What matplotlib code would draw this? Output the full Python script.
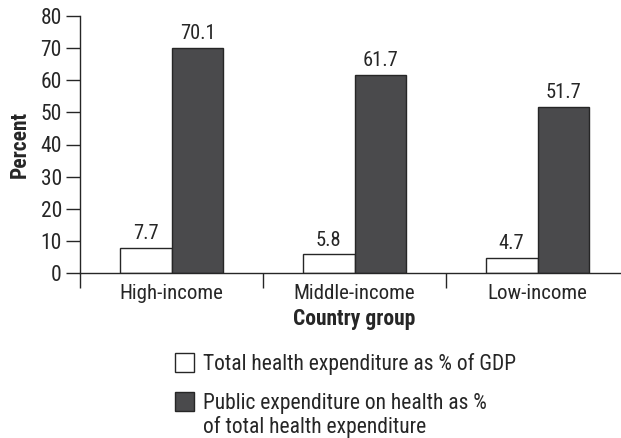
import matplotlib
matplotlib.use("Agg")
import matplotlib.pyplot as plt
import matplotlib.patches as patches
from matplotlib import font_manager
import numpy as np

# pick a narrow font if there is one
names = set(f.name for f in font_manager.fontManager.ttflist)
fam = 'Liberation Sans'
for cand in ['Liberation Sans Narrow', 'Roboto Condensed', 'Open Sans Condensed']:
    if cand in names:
        fam = cand
        break
plt.rcParams['font.family'] = [fam, 'DejaVu Sans']

groups = ['High-income', 'Middle-income', 'Low-income']
total_gdp = [7.7, 5.8, 4.7]
public_share = [70.1, 61.7, 51.7]
labels = ['Total health expenditure as % of GDP',
          'Public expenditure on health as %\nof total health expenditure']
colors = ['white', '#4a4a4c']
ink = '#262626'

W, H = 621, 438
fig = plt.figure(figsize=(W / 100, H / 100), dpi=100)
ax = fig.add_axes([80 / W, 165 / H, 1 - 80 / W, 257 / H])

x = np.arange(len(groups))
bw = 0.284
b1 = ax.bar(x - bw / 2, total_gdp, bw, color=colors[0], edgecolor=ink, linewidth=1)
b2 = ax.bar(x + bw / 2, public_share, bw, color=colors[1], edgecolor=ink, linewidth=1)

for bars, vals in [(b1, total_gdp), (b2, public_share)]:
    for b, v in zip(bars, vals):
        ax.text(b.get_x() + b.get_width() / 2, v + 1.5, '%.1f' % v,
                ha='center', va='bottom', fontsize=14.8, color=ink)

ax.set_xlim(-0.5, -0.5 + (W - 80) / 183)
ax.set_ylim(0, 80)
ax.set_yticks(range(0, 81, 10))
ax.tick_params(axis='y', length=10, width=1, labelsize=15.5, colors=ink, pad=3)

# category labels + group separators
ax.set_xticks(x)
ax.set_xticklabels(groups)
ax.tick_params(axis='x', which='major', length=0, labelsize=15, pad=8, colors=ink)
ax.set_xticks([-0.5, 0.5, 1.5], minor=True)
ax.tick_params(axis='x', which='minor', length=11, width=1, color=ink)

for s in ['top', 'right']:
    ax.spines[s].set_visible(False)
for s in ['left', 'bottom']:
    ax.spines[s].set_color(ink)
    ax.spines[s].set_linewidth(1)

ax.set_ylabel('Percent', fontsize=15.5, fontweight='bold', color=ink, labelpad=7)
fig.text(354 / W, 1 - 319 / H, 'Country group', ha='center', va='center',
         fontsize=15.5, fontweight='bold', color=ink)

# legend drawn by hand, one text per line
box = 19
ys = [362.5, 401]
for c, lab, yc in zip(colors, labels, ys):
    fig.patches.append(patches.Rectangle((175 / W, 1 - (yc + box / 2) / H), box / W, box / H,
                                         transform=fig.transFigure, facecolor=c,
                                         edgecolor=ink, linewidth=1))
    for i, line in enumerate(lab.split('\n')):
        fig.text(203 / W, 1 - (yc + 7.5 + 24 * i) / H, line, ha='left', va='baseline',
                 fontsize=15.5, color=ink)

fig.savefig('out.png', dpi=100)
